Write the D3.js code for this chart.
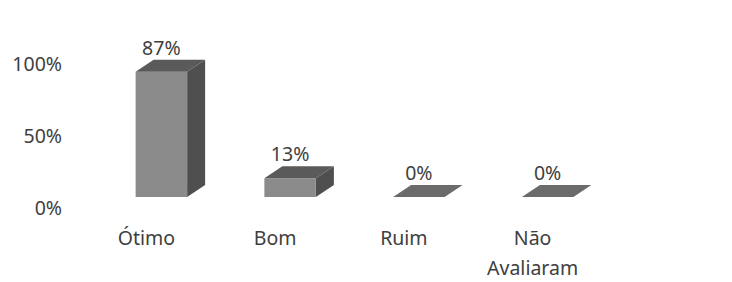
<!DOCTYPE html>
<html>
<head>
<meta charset="utf-8" />
<script src="https://cdn.jsdelivr.net/npm/d3@7"></script>
<style>
  body { margin: 0; background: #fff; }
  text { font-family: "Noto Sans", "Open Sans", sans-serif; fill: #3e3e3e; }
</style>
</head>
<body>
<div id="chart"></div>
<script>
// chart data
var categories = ["Ótimo", "Bom", "Ruim", "Não Avaliaram"];
var values = [0.87, 0.13, 0, 0];
var valueLabels = ["87%", "13%", "0%", "0%"];
var tickValues = [0, 0.5, 1];

var width = 732, height = 282;
var depthX = 18, depthY = 12;   // 3d offset of the bars
var fontSize = '19.5px';

var svg = d3.select('#chart')
    .append('svg')
    .attr('width', width)
    .attr('height', height);

var x = d3.scaleBand()
    .domain(categories)
    .range([97, 612])
    .paddingInner(0.6)
    .paddingOuter(0.3);

var y = d3.scaleLinear()
    .domain([0, 1])
    .range([197, 53]);

// y axis labels (no line, labels only)
var yAxis = d3.axisLeft(y)
    .tickValues(tickValues)
    .tickFormat(d3.format('.0%'))
    .tickSize(0)
    .tickPadding(0);

svg.append('g')
    .attr('transform', 'translate(62,11)')
    .call(yAxis)
    .call(function (g) { g.select('.domain').remove(); })
    .selectAll('text')
    .style('font-size', fontSize)
    .style('font-family', '"Noto Sans", sans-serif')
    .attr('fill', '#444');

var bars = svg.selectAll('g.bar')
    .data(categories)
    .enter()
    .append('g')
    .attr('class', 'bar');

// right side face
bars.append('path')
    .attr('fill', '#4f4f4f')
    .attr('d', function (d, i) {
        var x1 = x(d) + x.bandwidth(), y0 = y(0), y1 = y(values[i]);
        return 'M' + x1 + ',' + y1 + 'L' + (x1 + depthX) + ',' + (y1 - depthY) +
            'L' + (x1 + depthX) + ',' + (y0 - depthY) + 'L' + x1 + ',' + y0 + 'Z';
    });

// front face
bars.append('rect')
    .attr('fill', '#8b8b8b')
    .attr('x', function (d) { return x(d); })
    .attr('y', function (d, i) { return y(values[i]); })
    .attr('width', x.bandwidth())
    .attr('height', function (d, i) { return y(0) - y(values[i]); });

// top face
bars.append('path')
    .attr('fill', function (d, i) { return values[i] > 0 ? '#5a5a5a' : '#6b6b6b'; })
    .attr('d', function (d, i) {
        var x0 = x(d), x1 = x(d) + x.bandwidth(), y1 = y(values[i]);
        return 'M' + x0 + ',' + y1 + 'L' + (x0 + depthX) + ',' + (y1 - depthY) +
            'L' + (x1 + depthX) + ',' + (y1 - depthY) + 'L' + x1 + ',' + y1 + 'Z';
    });

// value labels
bars.append('text')
    .attr('x', function (d) { return x(d) + x.bandwidth() / 2; })
    .attr('y', function (d, i) { return y(values[i]) - depthY - 5; })
    .attr('text-anchor', 'middle')
    .style('font-size', fontSize)
    .text(function (d, i) { return valueLabels[i]; });

// category labels (wrapped on spaces for "Não Avaliaram")
var catText = svg.selectAll('text.cat')
    .data(categories)
    .enter()
    .append('text')
    .attr('class', 'cat')
    .attr('text-anchor', 'middle')
    .style('font-size', fontSize);

catText.each(function (d) {
    var words = d.split(' ');
    var cx = x(d) + x.bandwidth() / 2 - 15;
    var t = d3.select(this);
    words.forEach(function (w, k) {
        t.append('tspan')
            .attr('x', cx)
            .attr('y', 245 + k * 30)
            .text(w);
    });
});
</script>
</body>
</html>
